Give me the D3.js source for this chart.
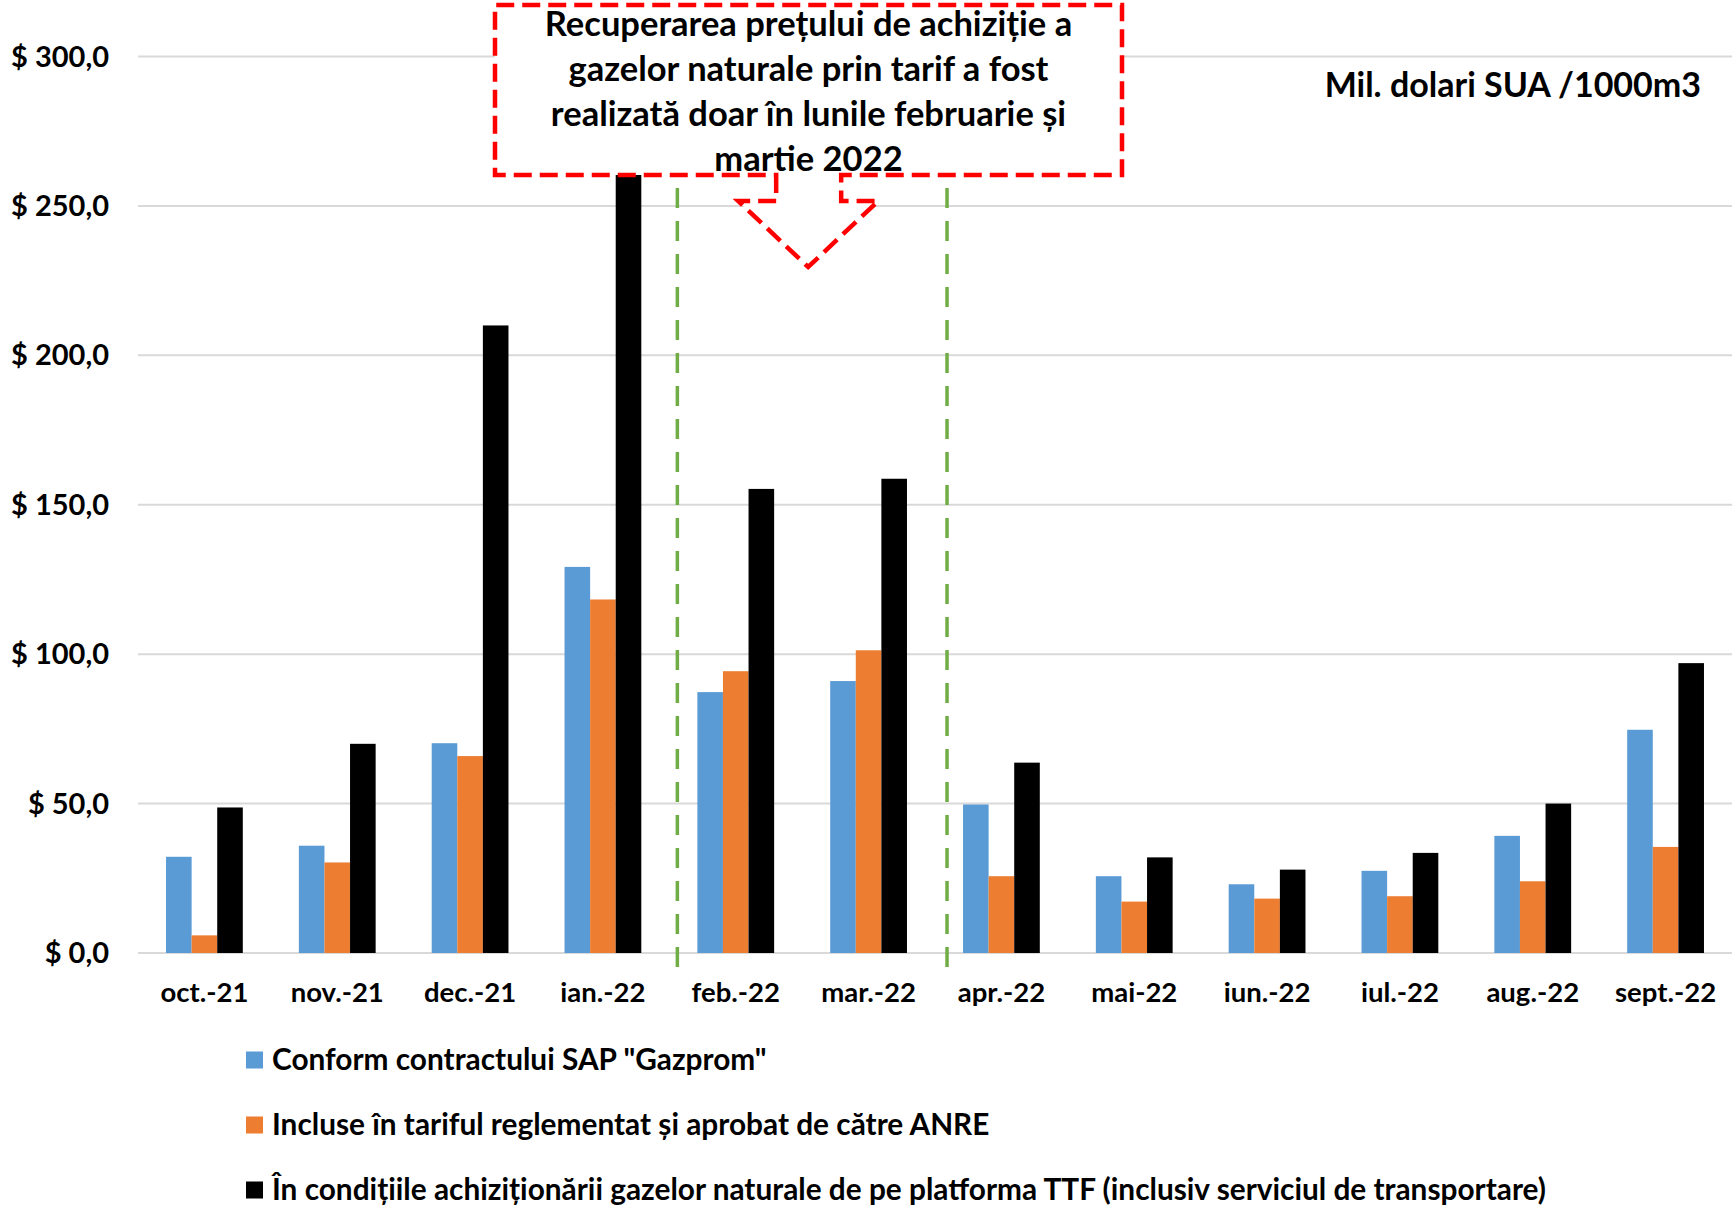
<!DOCTYPE html>
<html lang="ro">
<head>
<meta charset="UTF-8">
<title>Gaze naturale - pret de achizitie</title>
<style>
  body { margin: 0; background: #fff; }
  svg text { font-family: Lato, "Open Sans", sans-serif; font-weight: 700; fill: #000; }
</style>
</head>
<body>
<svg id="chart" width="1734" height="1211"></svg>
<script src="https://d3js.org/d3.v7.min.js"></script>
<script>
// months on the x axis
const months = ["oct.-21", "nov.-21", "dec.-21", "ian.-22", "feb.-22", "mar.-22",
                "apr.-22", "mai-22", "iun.-22", "iul.-22", "aug.-22", "sept.-22"];

// series
const gazprom = [32.2, 35.9, 70.2, 129.2, 87.3, 91.0, 49.7, 25.7, 23.0, 27.5, 39.2, 74.7];
const anre    = [5.9, 30.3, 65.9, 118.3, 94.3, 101.3, 25.7, 17.2, 18.2, 19.0, 24.0, 35.5];
const ttf     = [48.7, 70.0, 210.0, 265.0, 155.3, 158.7, 63.7, 32.0, 27.9, 33.5, 50.0, 97.0];

const seriesNames = [
  'Conform contractului SAP "Gazprom"',
  "Incluse în tariful reglementat și aprobat de către ANRE",
  "În condițiile achiziționării gazelor naturale de pe platforma TTF (inclusiv serviciul de transportare)"
];
const seriesColors = ["#5b9bd5", "#ed7d31", "#000000"];

const yTicks = [0, 50, 100, 150, 200, 250, 300];

const calloutLines = [
  "Recuperarea prețului de achiziție a",
  "gazelor naturale prin tarif a fost",
  "realizată doar în lunile februarie și",
  "martie 2022"
];
const unitLabel = "Mil. dolari SUA /1000m3";

// ---- layout ----
const svg = d3.select("#chart");
const plotLeft = 138, plotRight = 1732, plotTop = 56.5, plotBottom = 953;

const x = d3.scaleBand()
  .domain(months)
  .range([plotLeft, plotRight])
  .paddingInner(0.422)
  .paddingOuter(0.211);

const xSeries = d3.scaleBand()
  .domain([0, 1, 2])
  .range([0, x.bandwidth()]);

const y = d3.scaleLinear().domain([0, 300]).range([plotBottom, plotTop]);

// gridlines
svg.append("g")
  .selectAll("line")
  .data(yTicks)
  .join("line")
  .attr("x1", plotLeft)
  .attr("x2", plotRight)
  .attr("y1", d => y(d))
  .attr("y2", d => y(d))
  .attr("stroke", "#d9d9d9")
  .attr("stroke-width", 2);

// y axis labels
svg.append("g")
  .selectAll("text")
  .data(yTicks)
  .join("text")
  .attr("x", 109)
  .attr("y", d => y(d))
  .attr("dy", "0.35em")
  .attr("text-anchor", "end")
  .attr("font-size", 29)
  .text(d => "$ " + d.toFixed(1).replace(".", ","));

// bars
const table = months.map((m, i) => ({ month: m, values: [gazprom[i], anre[i], ttf[i]] }));

const groups = svg.append("g")
  .selectAll("g")
  .data(table)
  .join("g")
  .attr("transform", d => `translate(${x(d.month)},0)`);

groups.selectAll("rect")
  .data(d => d.values.map((v, k) => ({ k, v })))
  .join("rect")
  .attr("x", d => xSeries(d.k))
  .attr("width", xSeries.bandwidth())
  .attr("y", d => y(d.v))
  .attr("height", d => y(0) - y(d.v))
  .attr("fill", d => seriesColors[d.k]);

// x axis labels
svg.append("g")
  .selectAll("text")
  .data(months)
  .join("text")
  .attr("x", d => x(d) + x.bandwidth() / 2)
  .attr("y", 1002)
  .attr("text-anchor", "middle")
  .attr("font-size", 27.5)
  .text(d => d);

// green dashed separators before feb and before apr
const sepX = [x("feb.-22") - 20, x("apr.-22") - 16];
svg.append("g")
  .selectAll("line")
  .data(sepX)
  .join("line")
  .attr("x1", d => d)
  .attr("x2", d => d)
  .attr("y1", 188)
  .attr("y2", 972)
  .attr("stroke", "#70ad47")
  .attr("stroke-width", 3.5)
  .attr("stroke-dasharray", "20,13");

// red dashed callout box with down arrow
const bx0 = 495, bx1 = 1122, by0 = 5, by1 = 175;
const cx = (x("feb.-22") + x("mar.-22") + x.bandwidth()) / 2 + 6;
const tipY = 267, wingY = 201;
const callout = d3.path();
callout.moveTo(cx - 32, by1);
callout.lineTo(cx - 32, wingY);
callout.lineTo(cx - 70, wingY);
callout.lineTo(cx, tipY);
callout.lineTo(cx + 70, wingY);
callout.lineTo(cx + 33, wingY);
callout.lineTo(cx + 33, by1);
callout.lineTo(bx1, by1);
callout.lineTo(bx1, by0);
callout.lineTo(bx0, by0);
callout.lineTo(bx0, by1);
callout.closePath();

svg.append("path")
  .attr("d", callout.toString())
  .attr("fill", "#fff")
  .attr("stroke", "#ff0000")
  .attr("stroke-width", 4.5)
  .attr("stroke-dasharray", "18,8");

svg.append("g")
  .selectAll("text")
  .data(calloutLines)
  .join("text")
  .attr("x", (bx0 + bx1) / 2)
  .attr("y", (d, i) => 36 + i * 45)
  .attr("text-anchor", "middle")
  .attr("font-size", 34.5)
  .text(d => d);

// unit label
svg.append("text")
  .attr("x", 1701)
  .attr("y", 97)
  .attr("text-anchor", "end")
  .attr("font-size", 34)
  .text(unitLabel);

// legend
const legend = svg.append("g")
  .selectAll("g")
  .data(seriesNames)
  .join("g")
  .attr("transform", (d, i) => `translate(246,${1060 + i * 65})`);

legend.append("rect")
  .attr("x", 0)
  .attr("y", -8.5)
  .attr("width", 17)
  .attr("height", 17)
  .attr("fill", (d, i) => seriesColors[i]);

legend.append("text")
  .attr("x", 26)
  .attr("y", 0)
  .attr("dy", "0.35em")
  .attr("font-size", 29.8)
  .text(d => d);
</script>
</body>
</html>
